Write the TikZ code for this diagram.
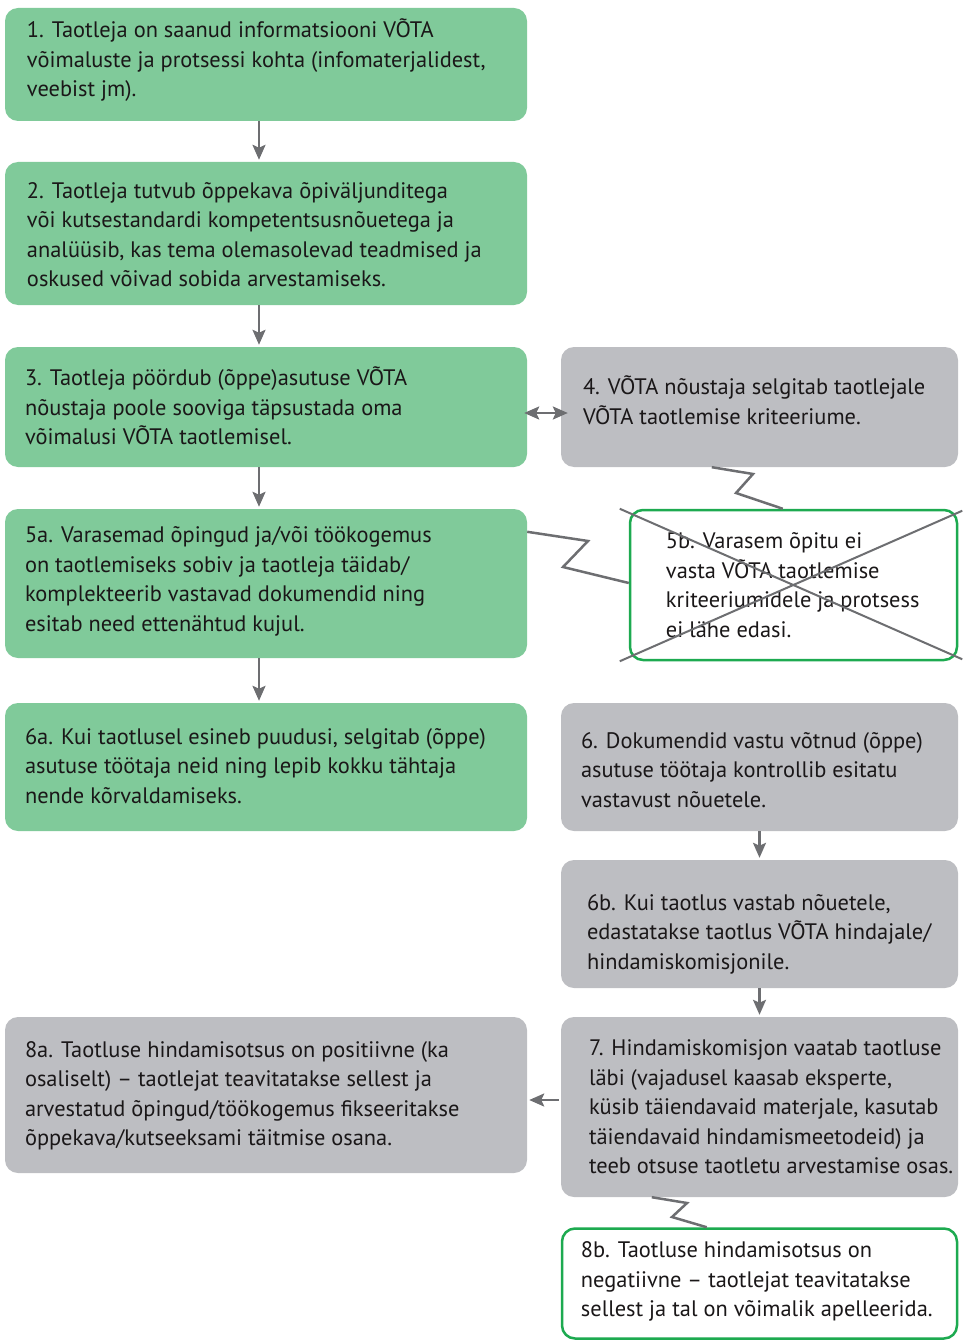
\documentclass[tikz,border=0pt]{standalone}
\usepackage{fontspec}
\setmainfont{PT Sans}
\usetikzlibrary{arrows.meta,calc}
\definecolor{gfill}{HTML}{80CA9A}
\definecolor{gyfill}{HTML}{BDBEC2}
\definecolor{gline}{HTML}{1DAA50}
\definecolor{arr}{HTML}{6D6E71}
\definecolor{txt}{HTML}{1A1718}
\begin{document}
\begin{tikzpicture}[x=1pt,y=-1pt,
  box/.style={rectangle,rounded corners=13pt,inner sep=0pt,draw=none},
  gbox/.style={box,fill=gfill},
  ybox/.style={box,fill=gyfill},
  wbox/.style={box,draw=gline,line width=2.5pt,fill=white},
  txtn/.style={anchor=west,inner sep=0pt,align=left,text=txt,font=\fontsize{22.4pt}{29.5pt}\selectfont},
  tip/.tip={Stealth[length=15pt,width=13pt,inset=3pt]},
  conn/.style={draw=arr,line width=2.5pt,-tip},
  conn2/.style={draw=arr,line width=2.5pt,tip-tip},
  zz/.style={draw=arr,line width=2.5pt},
  cross/.style={draw=arr,line width=2pt}]
\useasboundingbox (0,0) rectangle (962,1340);
% boxes
\node[gbox,minimum width=522pt,minimum height=113pt] (b1) at (266,64.5) {};
\node[gbox,minimum width=522pt,minimum height=143pt] (b2) at (266,233.5) {};
\node[gbox,minimum width=522pt,minimum height=120pt] (b3) at (266,407) {};
\node[ybox,minimum width=397pt,minimum height=120pt] (b4) at (759.5,407) {};
\node[gbox,minimum width=522pt,minimum height=149pt] (b5a) at (266,583.5) {};
\node[wbox,minimum width=327pt,minimum height=150pt] (b5b) at (793.5,585) {};
\node[gbox,minimum width=522pt,minimum height=128pt] (b6a) at (266,767) {};
\node[ybox,minimum width=397pt,minimum height=128pt] (b6) at (759.5,767) {};
\node[ybox,minimum width=397pt,minimum height=128pt] (b6b) at (759.5,924) {};
\node[ybox,minimum width=522pt,minimum height=156pt] (b8a) at (266,1095) {};
\node[ybox,minimum width=397pt,minimum height=180pt] (b7) at (759.5,1107) {};
\node[wbox,minimum width=395pt,minimum height=110pt] (b8b) at (759.5,1283.5) {};
% texts
\node[txtn] (t1) at ([xshift=22pt,yshift=4pt]b1.west) {1. Taotleja on saanud informatsiooni VÕTA\\võimaluste ja protsessi kohta (infomaterjalidest,\\veebist jm).};
\node[txtn] (t2) at ([xshift=22pt,yshift=-1pt]b2.west) {2. Taotleja tutvub õppekava õpiväljunditega\\või kutsestandardi kompetentsusnõuetega ja\\analüüsib, kas tema olemasolevad teadmised ja\\oskused võivad sobida arvestamiseks.};
\node[txtn] (t3) at ([xshift=20pt,yshift=1pt]b3.west) {3. Taotleja pöördub (õppe)asutuse VÕTA\\nõustaja poole sooviga täpsustada oma\\võimalusi VÕTA taotlemisel.};
\node[txtn] (t4) at ([xshift=22pt,yshift=7pt]b4.west) {4. VÕTA nõustaja selgitab taotlejale\\VÕTA taotlemise kriteeriume.};
\node[txtn] (t5a) at ([xshift=20pt,yshift=2pt]b5a.west) {5a. Varasemad õpingud ja/või töökogemus\\on taotlemiseks sobiv ja taotleja täidab/\\komplekteerib vastavad dokumendid ning\\esitab need ettenähtud kujul.};
\node[txtn] (t5b) at ([xshift=37pt]b5b.west) {5b. Varasem õpitu ei\\vasta VÕTA taotlemise\\kriteeriumidele ja protsess\\ei lähe edasi.};
\node[txtn] (t6a) at ([xshift=20pt,yshift=1pt]b6a.west) {6a. Kui taotlusel esineb puudusi, selgitab (õppe)\\asutuse töötaja neid ning lepib kokku tähtaja\\nende kõrvaldamiseks.};
\node[txtn] (t6) at ([xshift=20pt,yshift=-3pt]b6.west) {6. Dokumendid vastu võtnud (õppe)\\asutuse töötaja kontrollib esitatu\\vastavust nõuetele.};
\node[txtn] (t6b) at ([xshift=26pt,yshift=-10pt]b6b.west) {6b. Kui taotlus vastab nõuetele,\\edastatakse taotlus VÕTA hindajale/\\hindamiskomisjonile.};
\node[txtn] (t8a) at ([xshift=20pt,yshift=-1pt]b8a.west) {8a. Taotluse hindamisotsus on positiivne (ka\\osaliselt) -- taotlejat teavitatakse sellest ja\\arvestatud õpingud/töökogemus fikseeritakse\\õppekava/kutseeksami täitmise osana.};
\node[txtn] (t7) at ([xshift=28pt]b7.west) {7. Hindamiskomisjon vaatab taotluse\\läbi (vajadusel kaasab eksperte,\\küsib täiendavaid materjale, kasutab\\täiendavaid hindamismeetodeid) ja\\teeb otsuse taotletu arvestamise osas.};
\node[txtn] (t8b) at ([xshift=20pt,yshift=2pt]b8b.west) {8b. Taotluse hindamisotsus on\\negatiivne -- taotlejat teavitatakse\\sellest ja tal on võimalik apelleerida.};
% cross over 5b
\draw[cross] ([xshift=-9pt]b5b.north west) -- ([xshift=4pt,yshift=2pt]b5b.south east);
\draw[cross] ([xshift=-9pt]b5b.south west) -- ([xshift=4pt,yshift=-2pt]b5b.north east);
% straight connectors
\draw[conn] ([xshift=-7pt]b1.south) -- ([xshift=-7pt,yshift=2pt]b2.north);
\draw[conn] ([xshift=-7pt]b2.south) -- ([xshift=-7pt,yshift=2pt]b3.north);
\draw[conn] ([xshift=-7pt]b3.south) -- ([xshift=-7pt,yshift=2pt]b5a.north);
\draw[conn] ([xshift=-7pt]b5a.south) -- ([xshift=-7pt,yshift=2pt]b6a.north);
\draw[conn2] ([xshift=-3pt,yshift=-6pt]b3.east) -- ([xshift=7pt,yshift=-6pt]b4.west);
\draw[conn] (b6.south) -- ([yshift=2pt]b6b.north);
\draw[conn] (b6b.south) -- ([yshift=2pt]b7.north);
\draw[conn] ([xshift=-2pt,yshift=7pt]b7.west) -- ([xshift=2pt,yshift=-5pt]b8a.east);
% zigzag connectors
\draw[zz] ([xshift=151pt]b4.south west) -- (753,474) -- (736,493) -- ([xshift=154pt]b5b.north west);
\draw[zz] ([yshift=-23pt]b5a.north east) -- (588,541) -- (563,567) -- ([yshift=2pt]b5b.west);
\draw[zz] ([xshift=91pt]b7.south west) -- (687,1203) -- (672,1217) -- ([xshift=146pt]b8b.north west);
\end{tikzpicture}
\end{document}
